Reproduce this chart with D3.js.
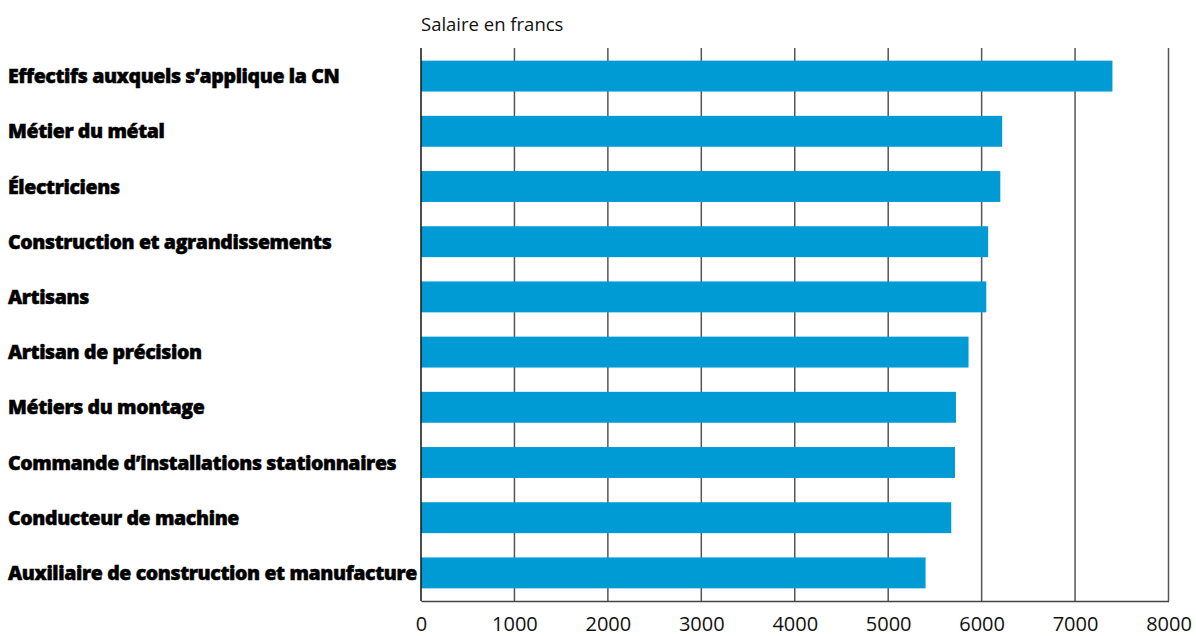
<!DOCTYPE html>
<html>
<head>
<meta charset="utf-8">
<script src="https://cdn.jsdelivr.net/npm/d3@7"></script>
<style>
  body { margin: 0; background: #fff; }
  svg { display: block; }
</style>
</head>
<body>
<div id="chart"></div>
<script>
// chart data
const categories = [
  "Effectifs auxquels s\u2019applique la CN",
  "Métier du métal",
  "Électriciens",
  "Construction et agrandissements",
  "Artisans",
  "Artisan de précision",
  "Métiers du montage",
  "Commande d\u2019installations stationnaires",
  "Conducteur de machine",
  "Auxiliaire de construction et manufacture"
];
const salaries = [7400, 6220, 6200, 6070, 6050, 5860, 5725, 5715, 5675, 5400];
const tickValues = [0, 1000, 2000, 3000, 4000, 5000, 6000, 7000, 8000];
const axisTitle = "Salaire en francs";

const width = 1196;
const height = 636;
const margin = { top: 48, right: 28, bottom: 35, left: 421 };

const svg = d3.select("#chart")
  .append("svg")
  .attr("width", width)
  .attr("height", height);

const x = d3.scaleLinear()
  .domain([0, 8000])
  .range([margin.left, 1168.5]);

const y = d3.scaleBand()
  .domain(categories)
  .range([margin.top + 0.5, margin.top + 0.5 + 55.2 * categories.length])
  .paddingInner(0.44)
  .paddingOuter(0.22);

// vertical gridlines
svg.append("g")
  .selectAll("line")
  .data(tickValues.slice(1))
  .join("line")
  .attr("x1", d => x(d))
  .attr("x2", d => x(d))
  .attr("y1", margin.top)
  .attr("y2", 601)
  .attr("stroke", "#555")
  .attr("stroke-width", 1.5);

// bars
svg.append("g")
  .selectAll("rect")
  .data(categories)
  .join("rect")
  .attr("x", x(0))
  .attr("y", d => y(d))
  .attr("width", (d, i) => x(salaries[i]) - x(0))
  .attr("height", y.bandwidth())
  .attr("fill", "#009bd4");

// bottom axis
const xAxis = svg.append("g")
  .attr("transform", "translate(0,601)")
  .call(d3.axisBottom(x).tickValues(tickValues).tickFormat(d3.format("d")).tickSize(0).tickPadding(0));
xAxis.select(".domain").attr("stroke", "#444").attr("stroke-width", 1.5);
xAxis.selectAll("text")
  .attr("dy", null)
  .attr("y", 29.5)
  .attr("fill", "#111")
  .style("font-family", "'Open Sans', sans-serif")
  .style("font-size", "20px");

// left axis line
svg.append("line")
  .attr("x1", x(0))
  .attr("x2", x(0))
  .attr("y1", margin.top)
  .attr("y2", 601)
  .attr("stroke", "#111")
  .attr("stroke-width", 1.5);

// category labels
const labels = svg.append("g")
  .selectAll("text")
  .data(categories)
  .join("text")
  .attr("x", 8)
  .attr("y", d => y(d) + y.bandwidth() / 2 + 7)
  .text(d => d)
  .style("font-family", "'Open Sans', sans-serif")
  .style("font-weight", 800)
  .style("font-size", "19.5px")
  .attr("fill", "#000")
  .attr("stroke", "#000")
  .attr("stroke-width", 0.5);

// tighten letter spacing so the longest label ends just before the axis
let widest = 0, widestChars = 1;
labels.each(function(d) {
  const w = this.getComputedTextLength();
  if (w > widest) { widest = w; widestChars = d.length; }
});
const spacing = (409 - widest) / widestChars;
labels.style("letter-spacing", spacing + "px");

// axis title
svg.append("text")
  .attr("x", x(0))
  .attr("y", 30.5)
  .text(axisTitle)
  .style("font-family", "'Open Sans', sans-serif")
  .style("font-size", "18.5px")
  .attr("fill", "#111");
</script>
</body>
</html>
